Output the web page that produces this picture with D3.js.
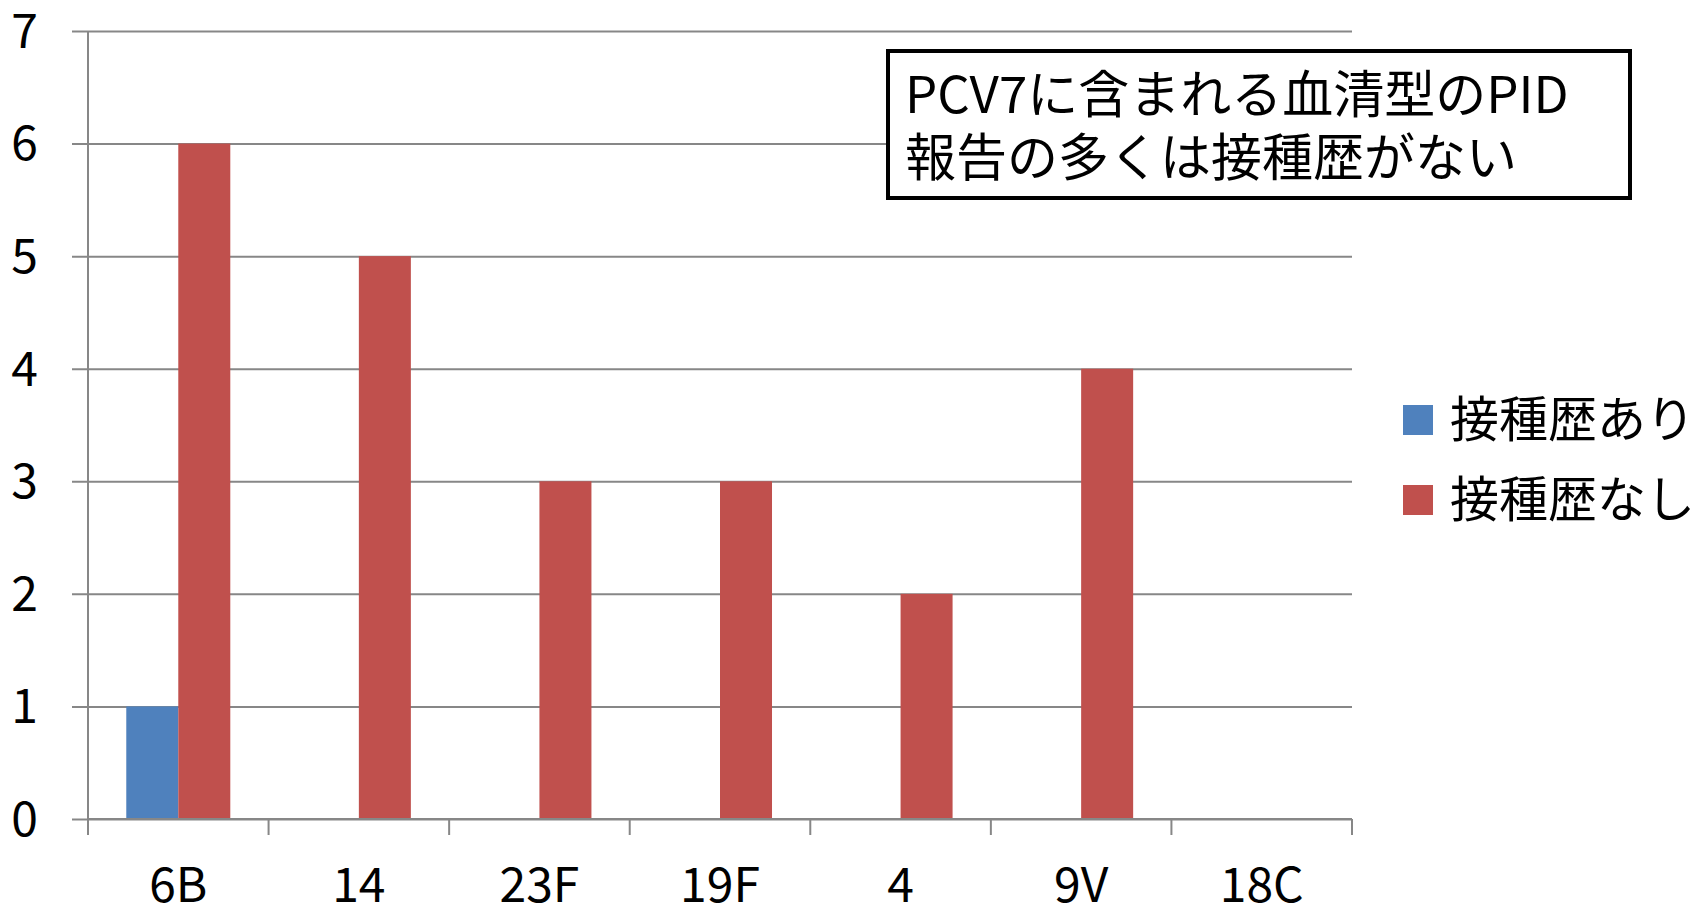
<!DOCTYPE html>
<html>
<head>
<meta charset="utf-8">
<script src="https://cdn.jsdelivr.net/npm/d3@7"></script>
<style>
  body { margin: 0; background: #fff; }
  text { font-family: "Noto Sans CJK JP", "Noto Sans", sans-serif; fill: #000; }
  .grid line { stroke: #878787; stroke-width: 2; }
  .grid path { display: none; }
</style>
</head>
<body>
<div id="chart"></div>
<script>
// serotypes
var categories = ["6B", "14", "23F", "19F", "4", "9V", "18C"];
var seriesNames = ["接種歴あり", "接種歴なし"];
var vaccinated = [1, 0, 0, 0, 0, 0, 0];
var notVaccinated = [6, 5, 3, 3, 2, 4, 0];
var yTicks = [0, 1, 2, 3, 4, 5, 6, 7];
var colors = ["#4f81bd", "#c0504d"];
var noteLines = ["PCV7に含まれる血清型のPID", "報告の多くは接種歴がない"];

var W = 1698, H = 909;
var plot = {left: 88, right: 1352, top: 31, bottom: 819};

var svg = d3.select("#chart").append("svg")
    .attr("width", W)
    .attr("height", H);

var x = d3.scaleBand()
    .domain(categories)
    .range([plot.left, plot.right]);

var xs = d3.scaleBand()
    .domain(seriesNames)
    .range([0, x.bandwidth()])
    .paddingInner(0)
    .paddingOuter(0.736);

var y = d3.scaleLinear()
    .domain([0, 7])
    .range([plot.bottom, plot.top]);

// horizontal gridlines (stick out 16px left of the axis)
svg.append("g")
    .attr("class", "grid")
    .attr("transform", "translate(" + plot.left + ",0)")
    .call(d3.axisLeft(y).tickValues(yTicks).tickSize(-(plot.right - plot.left)).tickSizeOuter(0).tickFormat(""))
    .selectAll("line")
    .attr("x1", -16)
    .attr("x2", plot.right - plot.left);

// y axis line
svg.append("line")
    .attr("x1", plot.left).attr("x2", plot.left)
    .attr("y1", plot.top).attr("y2", plot.bottom)
    .attr("stroke", "#878787")
    .attr("stroke-width", 2);

// y labels
svg.append("g")
    .selectAll("text")
    .data(yTicks)
    .enter().append("text")
    .attr("x", 38)
    .attr("y", function(d) { return y(d); })
    .attr("dy", "0.35em")
    .attr("text-anchor", "end")
    .style("font-size", "48px")
    .text(function(d) { return d; });

// bars
var rows = categories.map(function(c, i) {
  return {cat: c, values: [vaccinated[i], notVaccinated[i]]};
});

var groups = svg.append("g")
    .selectAll("g")
    .data(rows)
    .enter().append("g")
    .attr("transform", function(d) { return "translate(" + x(d.cat) + ",0)"; });

groups.selectAll("rect")
    .data(function(d) {
      return d.values.map(function(v, j) { return {name: seriesNames[j], value: v, j: j}; });
    })
    .enter().append("rect")
    .filter(function(d) { return d.value > 0; })
    .attr("x", function(d) { return xs(d.name); })
    .attr("y", function(d) { return y(d.value); })
    .attr("width", xs.bandwidth())
    .attr("height", function(d) { return y(0) - y(d.value); })
    .attr("fill", function(d) { return colors[d.j]; });

// x axis with boundary ticks
var bounds = categories.map(function(c) { return x(c); }).concat([plot.right]);
svg.append("line")
    .attr("x1", plot.left).attr("x2", plot.right)
    .attr("y1", plot.bottom).attr("y2", plot.bottom)
    .attr("stroke", "#878787")
    .attr("stroke-width", 2);
svg.append("g")
    .selectAll("line")
    .data(bounds)
    .enter().append("line")
    .attr("x1", function(d) { return d; })
    .attr("x2", function(d) { return d; })
    .attr("y1", plot.bottom)
    .attr("y2", plot.bottom + 16)
    .attr("stroke", "#878787")
    .attr("stroke-width", 2);

svg.append("g")
    .selectAll("text")
    .data(categories)
    .enter().append("text")
    .attr("x", function(d) { return x(d) + x.bandwidth() / 2; })
    .attr("y", 902)
    .attr("text-anchor", "middle")
    .style("font-size", "48px")
    .text(function(d) { return d; });

// legend
var legend = svg.append("g")
    .selectAll("g")
    .data(seriesNames)
    .enter().append("g")
    .attr("transform", function(d, i) { return "translate(1403," + (405 + i * 80) + ")"; });

legend.append("rect")
    .attr("width", 30)
    .attr("height", 30)
    .attr("fill", function(d, i) { return colors[i]; });

legend.append("text")
    .attr("x", 47)
    .attr("y", 15)
    .attr("dy", "0.35em")
    .style("font-size", "49px")
    .text(function(d) { return d; });

// note box
svg.append("rect")
    .attr("x", 888)
    .attr("y", 51)
    .attr("width", 742)
    .attr("height", 147)
    .attr("fill", "#fff")
    .attr("stroke", "#000")
    .attr("stroke-width", 4);

svg.append("g")
    .selectAll("text")
    .data(noteLines)
    .enter().append("text")
    .attr("x", 905)
    .attr("y", function(d, i) { return 113 + i * 63; })
    .style("font-size", "51px")
    .text(function(d) { return d; });
</script>
</body>
</html>
